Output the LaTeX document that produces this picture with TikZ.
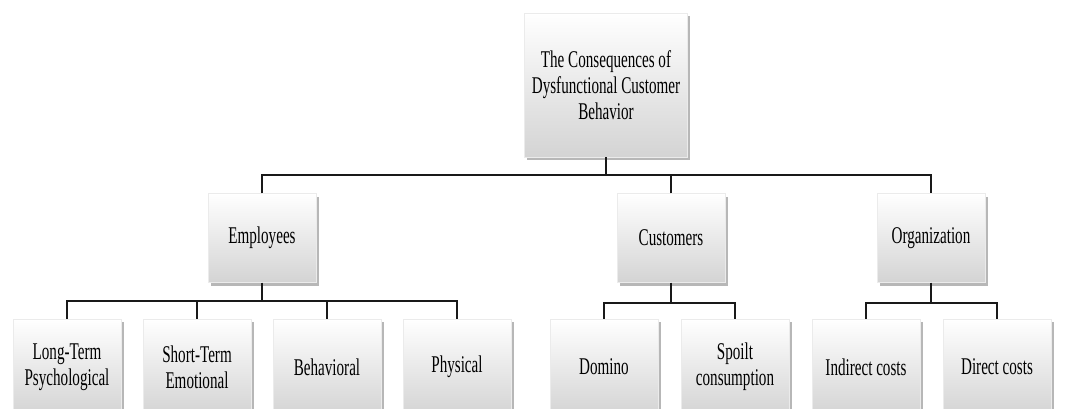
\documentclass[tikz,border=0pt]{standalone}
\usepackage{fontspec}
\setmainfont[FakeStretch=0.63]{Liberation Serif}
\usetikzlibrary{positioning, calc, shadows}

\tikzset{
  box/.style={rectangle, minimum width=108*0.75pt, minimum height=89*0.75pt,
    align=center, inner sep=1pt, top color=white, bottom color=black!17,
    draw=black!8, line width=0.3pt,
    drop shadow={shadow xshift=2pt, shadow yshift=-2.5pt, opacity=0.4, fill=black!70},
    font=\fontsize{18}{19.5}\selectfont},
  link/.style={line width=1.6pt, black!90}
}

\begin{document}
\begin{tikzpicture}[x=0.75pt,y=-0.75pt]
\clip (0,0) rectangle (1067,409);
\fill[white] (0,0) rectangle (1067,409);

\node[box, minimum width=163*0.75pt, minimum height=144*0.75pt](top) at (606,85)
  {The Consequences of\\Dysfunctional Customer\\Behavior};

\node[box](emp)  at (262,238) {Employees};
\node[box](cust) at (671,238) {Customers};
\node[box](org)  at (931,238) {Organization};

\node[box, minimum height=96*0.75pt](lt)  at (67,367)  {Long-Term\\Psychological};
\node[box, minimum height=96*0.75pt](st)  at (197,367) {Short-Term\\Emotional};
\node[box, minimum height=96*0.75pt](bh)  at (327,367) {Behavioral};
\node[box, minimum height=96*0.75pt](ph)  at (457,367) {Physical};
\node[box, minimum height=96*0.75pt](dom) at (604,367) {Domino};
\node[box, minimum height=96*0.75pt](sp)  at (735,367) {Spoilt\\consumption};
\node[box, minimum height=96*0.75pt](ind) at (866,367) {Indirect costs};
\node[box, minimum height=96*0.75pt](dir) at (997,367) {Direct costs};

\coordinate (bus)     at (606,175);
\coordinate (empbus)  at (262,301);
\coordinate (custbus) at (671,303);
\coordinate (orgbus)  at (931,303);

\draw[link] (top.south) -- (bus);
\draw[link] (emp.north) |- (bus) -| (org.north);
\draw[link] (cust.north) |- (bus);

\draw[link] (emp.south) -- (empbus);
\draw[link] (lt.north) |- (empbus) -| (ph.north);
\draw[link] (st.north) |- (empbus) -| (bh.north);

\draw[link] (cust.south) -- (custbus);
\draw[link] (dom.north) |- (custbus) -| (sp.north);

\draw[link] (org.south) -- (orgbus);
\draw[link] (ind.north) |- (orgbus) -| (dir.north);
\end{tikzpicture}
\end{document}
